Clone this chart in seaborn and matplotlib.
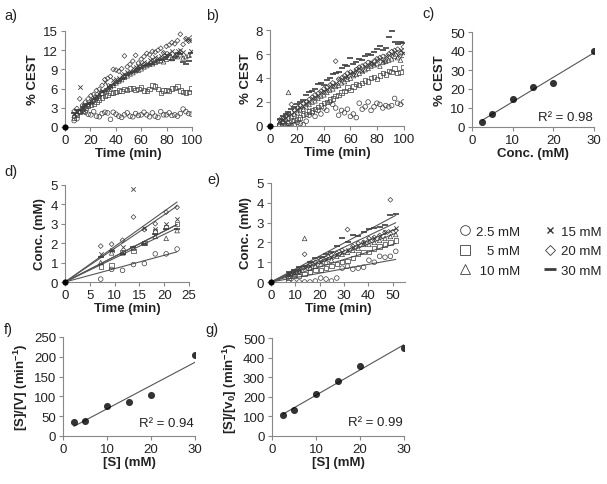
import numpy as np
import seaborn as sns
import matplotlib.pyplot as plt
from matplotlib.lines import Line2D

sns.set_style("ticks")
plt.rcParams['font.family'] = ['Liberation Sans', 'DejaVu Sans']
plt.rcParams['mathtext.fontset'] = 'custom'
plt.rcParams['mathtext.rm'] = 'Liberation Sans:bold'
plt.rcParams['mathtext.default'] = 'rm'

# ---- data ----
time_ab = [7.2, 9.4, 11.6, 13.8, 16.0, 18.2, 20.4, 22.6, 24.8, 27.0, 29.2, 31.4, 33.6, 35.8,
           38.0, 40.2, 42.4, 44.6, 46.8, 49.0, 51.2, 53.4, 55.6, 57.8, 60.0, 62.2, 64.4, 66.6,
           68.8, 71.0, 73.2, 75.4, 77.6, 79.8, 82.0, 84.2, 86.4, 88.6, 90.8, 93.0, 95.2, 97.4, 99.6]
time_d = [7.2, 9.4, 11.6, 13.8, 16.0, 18.2, 20.4, 22.6]
time_e = [7.2, 9.4, 11.6, 13.8, 16.0, 18.2, 20.4, 22.6, 24.8, 27.0, 29.2, 31.4, 33.6, 35.8,
          38.0, 40.2, 42.4, 44.6, 46.8, 49.0, 51.2]

labels = ["2.5 mM", "5 mM", "10 mM", "15 mM", "20 mM", "30 mM"]
legend_labels = ["2.5 mM", "   5 mM", " 10 mM", "15 mM", "20 mM", "30 mM"]

# panel a: % CEST
cest_a_25 = [1.0, 1.3, 2.4, 2.6, 2.3, 2.0, 1.9, 2.4, 1.7, 1.6, 2.1, 2.3, 2.2, 1.2, 2.3, 2.0, 1.7, 1.5,
             1.9, 2.2, 1.7, 1.6, 2.1, 1.8, 1.9, 2.3, 1.9, 1.6, 2.2, 1.7, 1.5, 2.4, 1.9, 1.9, 2.2, 1.8,
             1.9, 1.7, 2.1, 2.8, 2.4, 2.1, 2.0]
cest_a_5 = [1.5, 1.9, 2.3, 2.6, 3.0, 3.3, 3.4, 3.7, 3.9, 4.2, 4.6, 4.8, 5.0, 5.3, 5.4, 5.5, 5.7, 5.6,
            5.9, 5.8, 6.0, 6.1, 5.8, 5.9, 6.2, 5.7, 5.6, 5.9, 6.5, 6.3, 5.9, 5.3, 5.7, 5.8, 5.6, 6.0,
            6.1, 6.3, 5.7, 5.5, 5.4, 5.5, 6.0]
cest_a_10 = [1.8, 2.1, 2.4, 2.8, 3.2, 3.5, 3.9, 4.2, 4.6, 5.0, 5.3, 5.7, 6.0, 6.3, 6.5, 6.9, 7.2, 7.4,
             7.8, 8.0, 8.3, 8.5, 8.8, 8.9, 9.1, 9.4, 9.6, 9.8, 9.9, 10.1, 10.3, 10.4, 10.2, 10.6, 10.9,
             10.7, 11.1, 11.0, 11.3, 10.8, 11.0, 11.2, 11.3]
cest_a_15 = [2.0, 2.4, 6.3, 2.9, 3.4, 3.8, 4.0, 4.5, 4.8, 5.2, 5.6, 7.0, 6.4, 6.6, 7.3, 7.5, 7.7, 8.1,
             8.3, 8.6, 8.8, 9.2, 9.4, 9.5, 9.9, 10.1, 10.0, 10.4, 10.6, 10.9, 10.8, 11.1, 11.5, 11.2,
             11.6, 11.8, 11.4, 11.9, 12.0, 11.7, 13.8, 13.6, 11.8]
cest_a_20 = [2.5, 2.9, 4.4, 3.4, 3.9, 4.4, 4.9, 5.1, 5.7, 5.9, 6.5, 7.4, 7.6, 7.9, 9.0, 8.9, 8.7, 9.1,
             11.1, 9.4, 9.8, 10.3, 11.2, 10.0, 10.6, 11.0, 11.5, 11.3, 11.8, 11.7, 12.0, 12.3, 11.6,
             12.6, 12.8, 13.2, 13.0, 13.5, 14.5, 12.9, 13.8, 13.4, 13.9]
cest_a_30 = [2.2, 2.6, 2.7, 3.1, 3.5, 3.6, 3.8, 4.3, 4.6, 4.9, 5.4, 5.7, 6.0, 6.2, 6.6, 6.9, 7.2, 7.5,
             7.7, 8.1, 8.4, 8.6, 8.8, 9.0, 9.2, 9.5, 9.7, 9.9, 9.8, 10.2, 10.5, 10.4, 10.7, 10.9, 11.2,
             10.4, 11.0, 11.6, 11.4, 10.1, 9.9, 10.3, 11.5]

# panel b: % CEST
cest_b_25 = [0.1, 0.0, 0.1, 0.2, 0.0, 0.1, 0.3, 0.2, 0.1, 0.4, 0.9, 1.1, 0.8, 1.3, 1.0, 1.5, 1.3, 2.0,
             1.8, 1.5, 0.9, 1.3, 1.1, 1.4, 0.8, 1.0, 0.7, 1.9, 1.4, 1.6, 2.0, 1.3, 1.6, 1.9, 1.8, 1.5,
             1.7, 1.6, 1.7, 2.3, 1.9, 1.8, 2.0]
cest_b_5 = [0.1, 0.2, 0.1, 0.3, 0.4, 0.5, 0.6, 0.7, 0.9, 1.0, 1.2, 1.3, 1.4, 1.6, 1.7, 1.9, 2.0, 2.2,
            2.3, 2.5, 2.6, 2.8, 2.9, 3.2, 3.0, 3.3, 3.5, 3.4, 3.6, 3.8, 3.7, 4.0, 4.1, 3.9, 4.2, 4.4,
            4.3, 4.6, 4.5, 4.8, 4.4, 4.5, 4.9]
cest_b_10 = [0.3, 0.4, 0.6, 2.8, 0.8, 1.0, 1.1, 1.3, 1.4, 1.6, 1.8, 2.0, 2.1, 2.3, 2.5, 2.6, 2.8, 3.0,
             3.1, 3.3, 3.4, 3.6, 3.7, 3.9, 4.0, 4.2, 4.3, 4.4, 4.6, 4.7, 4.8, 5.0, 5.1, 5.2, 5.0, 5.3,
             5.4, 5.5, 5.6, 5.8, 5.7, 5.5, 5.9]
cest_b_15 = [0.4, 0.6, 0.7, 0.9, 1.0, 1.2, 1.4, 1.6, 1.7, 1.9, 2.1, 2.3, 2.4, 2.6, 2.8, 2.9, 3.1, 3.3,
             3.4, 3.6, 3.8, 3.9, 4.1, 4.2, 4.4, 4.5, 4.7, 4.8, 4.6, 5.0, 5.1, 5.3, 5.2, 5.5, 5.6, 5.4,
             5.8, 5.9, 6.0, 6.2, 5.9, 6.3, 6.1]
cest_b_20 = [0.5, 0.6, 0.8, 1.0, 1.8, 1.3, 1.5, 1.7, 1.9, 2.0, 2.2, 2.4, 2.6, 2.7, 2.9, 3.1, 3.2, 3.4,
             3.6, 5.4, 3.9, 4.0, 4.2, 4.4, 4.5, 4.3, 4.7, 4.9, 5.0, 5.1, 5.3, 5.2, 5.4, 5.6, 5.7, 5.8,
             5.5, 6.0, 6.2, 6.3, 6.4, 6.1, 6.6]
cest_b_30 = [0.6, 0.8, 1.0, 1.2, 1.4, 1.6, 1.8, 2.0, 2.2, 2.6, 2.8, 2.9, 3.1, 3.5, 3.6, 3.4, 3.8, 4.0,
             4.3, 4.4, 4.5, 4.8, 5.1, 5.0, 5.7, 5.2, 5.3, 5.6, 5.5, 5.8, 6.0, 5.9, 6.2, 6.4, 6.7, 6.3,
             6.5, 7.4, 7.9, 7.0, 6.8, 7.0, 6.9]

# panel d: conc. (mM)
conc_d_25 = [0.15, 0.65, 0.6, 0.9, 0.95, 1.45, 1.45, 1.7]
conc_d_5 = [0.8, 0.85, 1.55, 1.6, 2.0, 2.6, 2.85, 3.0]
conc_d_10 = [1.0, 1.5, 1.5, 1.75, 2.0, 2.35, 2.25, 2.65]
conc_d_15 = [1.45, 1.65, 1.8, 4.8, 2.8, 2.75, 3.0, 3.25]
conc_d_20 = [1.85, 1.95, 2.15, 3.35, 2.7, 3.0, 3.6, 3.85]
conc_d_30 = [1.3, 1.6, 1.45, 1.8, 1.95, 2.45, 2.75, 2.75]

# panel e: conc. (mM)
conc_e_25 = [0.0, 0.0, 0.0, 0.0, 0.0, 0.05, 0.2, 0.15, 0.05, 0.2, 0.7, 0.8, 0.65, 0.7, 0.75, 1.1,
             1.0, 1.3, 1.25, 1.3, 1.55]
conc_e_5 = [0.2, 0.3, 0.3, 0.4, 0.5, 0.6, 0.6, 0.7, 0.8, 0.9, 1.0, 1.05, 1.2, 1.4, 1.5, 1.5, 1.7,
            1.8, 1.9, 2.0, 2.1]
conc_e_10 = [0.3, 0.4, 0.5, 2.2, 0.7, 0.8, 0.9, 1.0, 1.1, 1.3, 1.4, 1.5, 1.6, 1.7, 1.9, 1.9, 2.0,
             2.1, 2.2, 2.3, 2.4]
conc_e_15 = [0.4, 0.5, 0.6, 0.7, 0.8, 0.9, 1.0, 1.15, 1.25, 1.4, 1.5, 1.6, 1.75, 1.85, 2.0, 2.1,
             2.2, 2.3, 2.5, 2.6, 2.75]
conc_e_20 = [0.35, 0.45, 0.55, 1.4, 0.9, 1.0, 1.1, 1.2, 1.35, 1.45, 1.6, 2.65, 1.8, 1.95, 2.0, 2.2,
             2.25, 2.35, 2.5, 4.15, 2.6]
conc_e_30 = [0.5, 0.6, 0.75, 0.8, 1.0, 1.2, 1.25, 1.4, 1.5, 1.8, 2.2, 2.0, 2.35, 2.3, 2.5, 2.7,
             2.75, 2.8, 2.9, 3.4, 3.45]

# panels c, f, g
conc_mm = [2.5, 5, 10, 15, 20, 30]
cest_c = [2.5, 7, 15, 21, 23, 40]
s_over_v_f = [35, 37, 77, 87, 104, 204]
s_over_v0_g = [105, 133, 213, 283, 357, 448]
origin = [0]

# ---- styling ----
markers = ["o", "s", "^", "x", "D", "_"]
sizes = [11, 10, 11, 10, 6, 18]
ink = "#3c3c3c"
fit_color = "#555555"
spine_color = "#888888"
FS = 9.5

fig = plt.figure(figsize=(6.07, 4.85), dpi=100)
W, H = 607, 485


def add_ax(l, r, b, t):
    return fig.add_axes([l / W, 1 - b / H, (r - l) / W, (b - t) / H])


def style(ax, xlim, xticks, ylim, yticks, xlabel, ylabel):
    ax.set_xlim(*xlim)
    ax.set_ylim(*ylim)
    ax.set_xticks(xticks)
    ax.set_yticks(yticks)
    sns.despine(ax=ax)
    for s in ["left", "bottom"]:
        ax.spines[s].set_color(spine_color)
        ax.spines[s].set_linewidth(0.8)
    ax.tick_params(axis="both", labelsize=FS, colors=spine_color, labelcolor="#222222",
                   length=3, width=0.8, pad=2)
    ax.set_xlabel(xlabel, fontsize=FS, fontweight="bold", labelpad=1, color="#222222")
    ax.set_ylabel(ylabel, fontsize=FS, fontweight="bold", labelpad=3, color="#222222")


def scatter_series(ax, t, series):
    for y, m, s in zip(series, markers, sizes):
        if m in ("x", "_"):
            sns.scatterplot(x=t, y=y, marker=m, s=s, color=ink,
                            linewidth=1.2 if m == "_" else 0.6, ax=ax, zorder=3)
        else:
            sns.scatterplot(x=t, y=y, marker=m, s=s, facecolors="none", edgecolor=ink,
                            linewidth=0.5, ax=ax, zorder=3)
    sns.scatterplot(x=origin, y=origin, color="black", s=20, edgecolor="black",
                    linewidth=0, ax=ax, clip_on=False, zorder=5)


def origin_fits(ax, t, series):
    t = np.asarray(t, float)
    for y in series:
        y = np.asarray(y, float)
        slope = np.sum(t * y) / np.sum(t * t)
        sns.lineplot(x=[0, t.max()], y=[0, slope * t.max()], color=fit_color, lw=0.8, ax=ax)


def reg_panel(ax, x, y):
    sns.regplot(x=x, y=y, ci=None, ax=ax, truncate=True,
                scatter_kws=dict(s=26, color="black", edgecolor="black", linewidths=0, zorder=3),
                line_kws=dict(color=fit_color, lw=0.8))


# a
ax_a = add_ax(65, 192, 128, 32)
scatter_series(ax_a, time_ab, [cest_a_25, cest_a_5, cest_a_10, cest_a_15, cest_a_20, cest_a_30])
style(ax_a, (0, 100), range(0, 101, 20), (0, 15), range(0, 16, 3), "Time (min)", "% CEST")

# b
ax_b = add_ax(270, 404, 127, 31)
scatter_series(ax_b, time_ab, [cest_b_25, cest_b_5, cest_b_10, cest_b_15, cest_b_20, cest_b_30])
style(ax_b, (0, 100), range(0, 101, 20), (0, 8), range(0, 9, 2), "Time (min)", "% CEST")

# c
ax_c = add_ax(472, 594, 128, 33)
reg_panel(ax_c, conc_mm, cest_c)
style(ax_c, (0, 30), range(0, 31, 10), (0, 50), range(0, 51, 10), "Conc. (mM)", "% CEST")
ax_c.text(0.99, 0.04, "R² = 0.98", transform=ax_c.transAxes, ha="right", va="bottom",
          fontsize=FS, color="#222222")

# d
series_d = [conc_d_25, conc_d_5, conc_d_10, conc_d_15, conc_d_20, conc_d_30]
ax_d = add_ax(65, 189, 283, 186)
origin_fits(ax_d, time_d, series_d)
scatter_series(ax_d, time_d, series_d)
style(ax_d, (0, 25), range(0, 26, 5), (0, 5), range(0, 6), "Time (min)", "Conc. (mM)")

# e
series_e = [conc_e_25, conc_e_5, conc_e_10, conc_e_15, conc_e_20, conc_e_30]
ax_e = add_ax(271, 405, 283, 184)
origin_fits(ax_e, time_e, series_e)
scatter_series(ax_e, time_e, series_e)
style(ax_e, (0, 55), range(0, 51, 10), (0, 5), range(0, 6), "Time (min)", "Conc. (mM)")

# f
ax_f = add_ax(63, 195, 437, 338)
reg_panel(ax_f, conc_mm, s_over_v_f)
style(ax_f, (0, 30), range(0, 31, 10), (0, 250), range(0, 251, 50), "[S] (mM)",
      "[S]/[V] (min$^{-1}$)")
ax_f.text(0.99, 0.07, "R² = 0.94", transform=ax_f.transAxes, ha="right", va="bottom",
          fontsize=FS, color="#222222")

# g
ax_g = add_ax(272, 404, 437, 339)
reg_panel(ax_g, conc_mm, s_over_v0_g)
style(ax_g, (0, 30), range(0, 31, 10), (0, 500), range(0, 501, 100), "[S] (mM)",
      "[S]/[v$_0$] (min$^{-1}$)")
ax_g.text(0.99, 0.08, "R² = 0.99", transform=ax_g.transAxes, ha="right", va="bottom",
          fontsize=FS, color="#222222")

# panel letters
for lab, px, py in [("a)", 4, 16), ("b)", 206, 16), ("c)", 422, 14), ("d)", 4, 172),
                    ("e)", 207, 180), ("f)", 4, 330), ("g)", 205, 330)]:
    fig.text(px / W, 1 - py / H, lab, fontsize=FS + 1, va="center", ha="left", color="#222222")

# legend
handles = []
for m in markers:
    filled = m not in ("x", "_")
    handles.append(Line2D([], [], ls="none", marker=m,
                          markersize={"D": 5, "_": 9, "x": 5}.get(m, 7),
                          markerfacecolor="none" if filled else ink, markeredgecolor=ink,
                          markeredgewidth=0.6 if filled else (2.0 if m == "_" else 1.0)))
fig.legend(handles, legend_labels, loc="center", bbox_to_anchor=(530 / W, 1 - 252 / H),
           ncol=2, frameon=False, fontsize=FS, handlelength=1.0, handletextpad=0.3,
           columnspacing=1.8, labelspacing=0.55, labelcolor="#222222")

fig.savefig("out.png", dpi=100)
